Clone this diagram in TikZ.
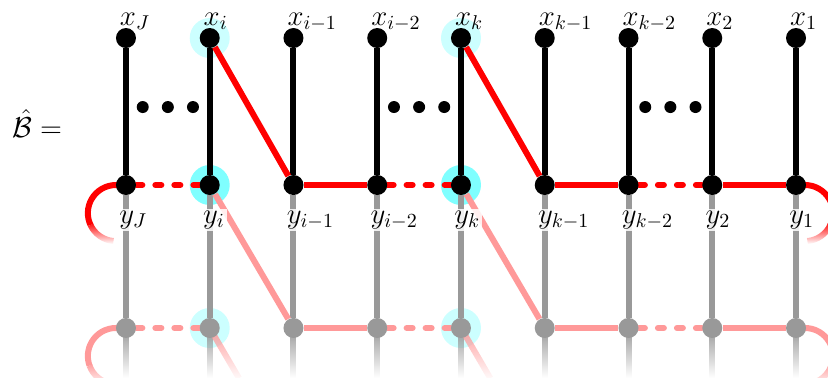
\documentclass[tikz,border=0pt]{standalone}
\usepackage{amsmath,amssymb}
\usetikzlibrary{fadings}

\pgfdeclarelayer{back}
\pgfdeclarelayer{mid}
\pgfsetlayers{back,mid,main}

\definecolor{hlcyan}{RGB}{0,255,255}

\tikzset{
  vtx/.style={circle, fill=black, inner sep=0pt, minimum size=10pt},
  gvtx/.style={vtx, fill=black!40},
  xlab/.style={anchor=base west, font=\Large, inner sep=1pt},
  ylab/.style={xlab, fill=white, fill opacity=0.85, text opacity=1},
  wire/.style={line width=3pt},
  red wire/.style={wire, red},
  pink wire/.style={wire, red!40},
  missing/.style={line cap=round, dash pattern=on 3pt off 6.5pt},
  hl/.style={fill=hlcyan, fill opacity=#1},
  hl/.default=0.2
}

\begin{document}
\begin{tikzpicture}[x=41.875pt, y=41.875pt]
  \useasboundingbox (-1.504,-2.304) rectangle (8.382,2.209);
  \def\cols{J/0/J, i/1/i, im/2/i-1, imm/3/i-2, k/4/k, km/5/k-1, kmm/6/k-2, 2/7/2, 1/8/1}

  % vertices and their labels
  \foreach \n/\c/\s in \cols {
    \node[vtx] (x\n) at (\c,1.755) {};
    \node[vtx] (y\n) at (\c,0) {};
    \node[gvtx] (g\n) at (\c,-1.707) {};
    \node[xlab] (lx\n) at (\c-0.1,1.91) {$x_{\s}$};
    \node[ylab] (ly\n) at (\c-0.108,-0.454) {$y_{\s}$};
  }
  \node[xlab] (B) at (-1.385,0.573) {$\hat{\mathcal{B}} =$};

  % dots
  \foreach \c in {0,3,6}
    \foreach \d in {0.2,0.5,0.8}
      \fill (\c+\d,0.931) circle (3pt);

  % highlighted vertices
  \begin{pgfonlayer}{back}
    \fill[hl] (xi) circle (10pt);
    \fill[hl] (xk) circle (10pt);
    \fill[hl=0.5] (yi) circle (10pt);
    \fill[hl=0.5] (yk) circle (10pt);
    \fill[hl] (gi) circle (10pt);
    \fill[hl] (gk) circle (10pt);
  \end{pgfonlayer}

  \begin{pgfonlayer}{mid}
    % faded copy below
    \foreach \n/\c/\s in \cols {
      \draw[wire, black!40] (y\n) -- (g\n);
      \fill[black!40, path fading=south] ([xshift=-1.5pt]g\n.center) rectangle ([xshift=1.5pt,yshift=-25pt]g\n.center);
    }
    \draw[pink wire, missing] (gJ) -- (gi);
    \draw[pink wire] (yi) -- (gim);
    \draw[pink wire] (gim) -- (gimm);
    \draw[pink wire, missing] (gimm) -- (gk);
    \draw[pink wire] (yk) -- (gkm);
    \draw[pink wire] (gkm) -- (gkmm);
    \draw[pink wire, missing] (gkmm) -- (g2);
    \draw[pink wire] (g2) -- (g1);
    \draw[pink wire, path fading=south] (gi.center) -- ++(0.35,-0.6);
    \draw[pink wire, path fading=south] (gk.center) -- ++(0.35,-0.6);
    \draw[pink wire] (gJ.center) -- ++(-0.12,0) arc[start angle=90, end angle=200, radius=0.335] coordinate (gl);
    \draw[pink wire, path fading=south] (gl) arc[start angle=200, end angle=260, radius=0.335];
    \draw[pink wire] (g1.center) -- ++(0.107,0) arc[start angle=90, end angle=-20, radius=0.335] coordinate (gr);
    \draw[pink wire, path fading=south] (gr) arc[start angle=-20, end angle=-80, radius=0.335];

    % strings
    \foreach \n/\c/\s in \cols
      \draw[wire] (x\n) -- (y\n);
    \draw[red wire, missing] (yJ) -- (yi);
    \draw[red wire] (xi) -- (yim);
    \draw[red wire] (yim) -- (yimm);
    \draw[red wire, missing] (yimm) -- (yk);
    \draw[red wire] (xk) -- (ykm);
    \draw[red wire] (ykm) -- (ykmm);
    \draw[red wire, missing] (ykmm) -- (y2);
    \draw[red wire] (y2) -- (y1);
    \draw[red wire] (yJ.center) -- ++(-0.12,0) arc[start angle=90, end angle=205, radius=0.335] coordinate (yl);
    \draw[red wire, path fading=south] (yl) arc[start angle=205, end angle=265, radius=0.335];
    \draw[red wire] (y1.center) -- ++(0.107,0) arc[start angle=90, end angle=-25, radius=0.335] coordinate (yr);
    \draw[red wire, path fading=south] (yr) arc[start angle=-25, end angle=-85, radius=0.335];
  \end{pgfonlayer}
\end{tikzpicture}
\end{document}
